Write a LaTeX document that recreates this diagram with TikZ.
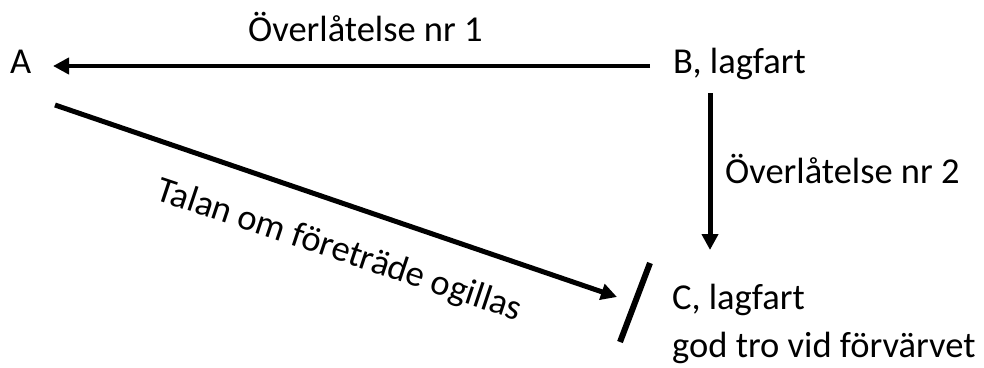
\documentclass[tikz,border=0pt]{standalone}
\usepackage{fontspec}
\setmainfont{Carlito}
\usetikzlibrary{arrows.meta}
\begin{document}
\begin{tikzpicture}[x=1pt,y=-1pt,
  lbl/.style={anchor=base west, inner sep=0pt, font=\fontsize{36.5}{44}\selectfont},
  conn/.style={line width=4.5pt, -{Triangle[length=16pt,width=16pt]}},
  barline/.style={line width=6pt},
]
\useasboundingbox (0,0) rectangle (984,367);
\node[lbl] (A) at (10,73) {A};
\node[lbl] (B) at (673,73) {B, lagfart};
\node[lbl] (C) at (672,309) {C, lagfart};
\node[lbl] (Cgt) at (672,357) {god tro vid förvärvet};
\node[lbl] (L1) at (248,41) {Överlåtelse nr 1};
\node[lbl] (L2) at (725,183) {Överlåtelse nr 2};
\node[inner sep=0pt, rotate=-18.5, font=\fontsize{36.5}{44}\selectfont] (L3) at (339,251) {Talan om företräde ogillas};
\coordinate (bw) at (650,66);
\coordinate (ae) at (53,66);
\coordinate (bs) at (710,93);
\coordinate (cn) at (710,250);
\coordinate (as) at (55,105);
\coordinate (ce) at (617,297);
\coordinate (bt) at (650,263);
\coordinate (bb) at (620,342);
\draw[conn] (bw) -- (ae);
\draw[conn, line width=5pt] (bs) -- (cn);
\draw[conn, line width=5pt] (as) -- (ce);
\draw[barline] (bt) -- (bb);
\end{tikzpicture}
\end{document}
